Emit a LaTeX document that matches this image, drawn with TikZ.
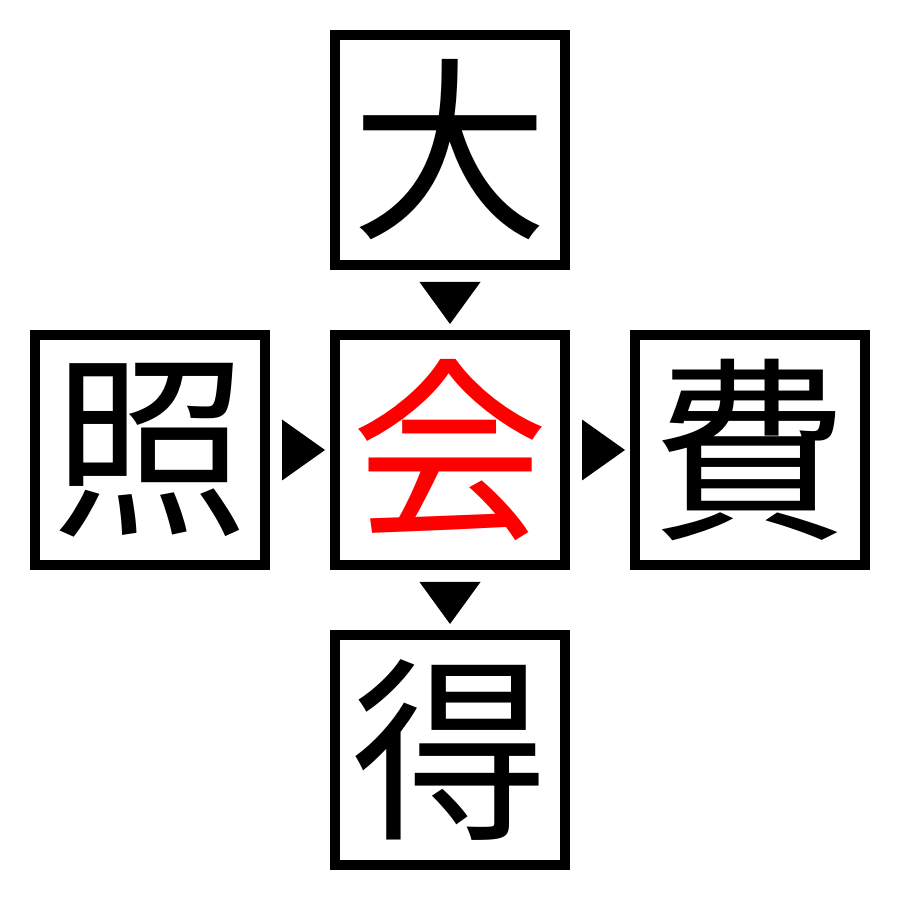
\documentclass[tikz,border=0pt]{standalone}
\usepackage{fontspec}
\newfontfamily\cjk{Noto Sans CJK JP}
\usetikzlibrary{calc,positioning}
\tikzset{kanji box/.style={rectangle,draw=black,line width=1mm,minimum size=2.3cm,inner sep=0pt,
                           font=\cjk\fontsize{56pt}{56pt}\selectfont},
         answer box/.style={kanji box,text=red},
         pointer/.style={fill=black,draw=none},
}

\begin{document}
\begin{tikzpicture}

\useasboundingbox (0,0) rectangle (9,9);

% the five squares
\node[answer box] (k_0) at (4.5,4.5) {会};
\node[kanji box] (k_1) at (4.5,7.5) {大};
\node[kanji box] (k_2) at (1.5,4.5) {照};
\node[kanji box] (k_3) at (7.5,4.5) {費};
\node[kanji box] (k_4) at (4.5,1.5) {得};

% triangles pointing into / out of the middle
\fill[pointer] ($(k_1.south)+(-0.305,-0.12)$) -- ++(0.61,0) -- ++(-0.305,-0.42) -- cycle;
\fill[pointer] ($(k_0.south)+(-0.305,-0.12)$) -- ++(0.61,0) -- ++(-0.305,-0.42) -- cycle;
\fill[pointer] ($(k_2.east)+(0.12,0.305)$) -- ++(0,-0.61) -- ++(0.43,0.305) -- cycle;
\fill[pointer] ($(k_0.east)+(0.12,0.305)$) -- ++(0,-0.61) -- ++(0.43,0.305) -- cycle;

\end{tikzpicture}
\end{document}
